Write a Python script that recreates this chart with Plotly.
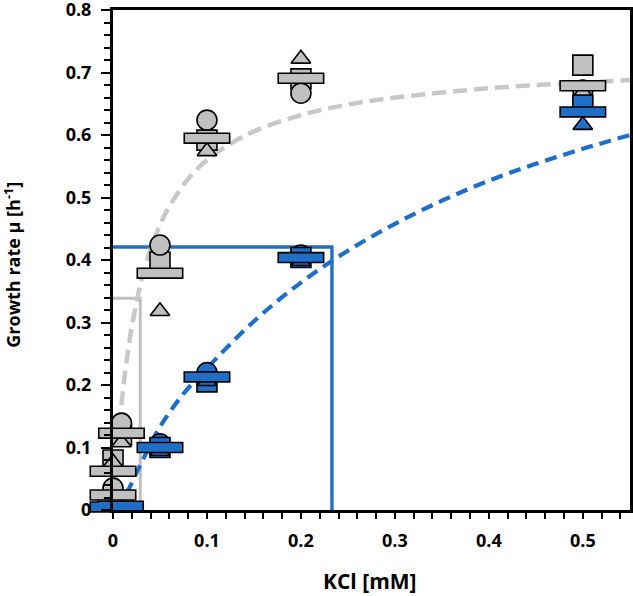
import plotly.graph_objects as go

# ---- data ----
# gray condition: replicate markers and means
gray_circle_x = [0.009, 0.0, 0.05, 0.1, 0.2, 0.5]
gray_circle_y = [0.139, 0.035, 0.424, 0.624, 0.667, 0.672]
gray_square_x = [0.009, 0.0, 0.05, 0.1, 0.2, 0.5]
gray_square_y = [0.120, 0.080, 0.397, 0.592, 0.690, 0.712]
gray_tri_x = [0.009, 0.0, 0.05, 0.1, 0.2, 0.5]
gray_tri_y = [0.108, 0.076, 0.318, 0.574, 0.722, 0.668]
gray_mean_x = [0.009, 0.0, 0.0, 0.05, 0.1, 0.2, 0.5]
gray_mean_y = [0.123, 0.062, 0.024, 0.379, 0.595, 0.691, 0.679]

# blue condition
blue_circle_x = [0.05, 0.1, 0.2]
blue_circle_y = [0.106, 0.220, 0.408]
blue_square_x = [0.0, 0.011, 0.05, 0.1, 0.2, 0.5]
blue_square_y = [-0.013, -0.013, 0.100, 0.205, 0.404, 0.648]
blue_tri_x = [0.05, 0.1, 0.2, 0.5]
blue_tri_y = [0.094, 0.206, 0.398, 0.616]
blue_mean_x = [0.0, 0.008, 0.05, 0.1, 0.2, 0.5]
blue_mean_y = [0.005, 0.006, 0.100, 0.213, 0.404, 0.637]

# fitted curves
gray_fit_x = [0.0, 0.005, 0.01, 0.015, 0.02, 0.03, 0.04, 0.05, 0.06, 0.08, 0.1,
              0.125, 0.15, 0.2, 0.25, 0.3, 0.35, 0.4, 0.45, 0.5, 0.55]
gray_fit_y = [0.0, 0.105, 0.184, 0.244, 0.293, 0.366, 0.417, 0.456, 0.486, 0.530, 0.560,
              0.586, 0.606, 0.632, 0.649, 0.660, 0.668, 0.675, 0.680, 0.684, 0.688]
blue_fit_x = [0.005, 0.015, 0.03, 0.05, 0.075, 0.1, 0.15, 0.2, 0.25, 0.3, 0.35,
              0.4, 0.45, 0.5, 0.55]
blue_fit_y = [0.0, 0.028, 0.075, 0.133, 0.186, 0.227, 0.302, 0.364, 0.415, 0.458, 0.495,
              0.527, 0.554, 0.578, 0.600]

# half-saturation guide lines
gray_guide_x = [0.0, 0.029, 0.029]
gray_guide_y = [0.339, 0.339, 0.0]
blue_guide_x = [0.0, 0.233, 0.233]
blue_guide_y = [0.421, 0.421, 0.0]

x_ticks = [0, 0.1, 0.2, 0.3, 0.4, 0.5]
x_ticklabels = ["0", "0.1", "0.2", "0.3", "0.4", "0.5"]
y_ticks = [0, 0.1, 0.2, 0.3, 0.4, 0.5, 0.6, 0.7, 0.8]
y_ticklabels = ["0", "0.1", "0.2", "0.3", "0.4", "0.5", "0.6", "0.7", "0.8"]
x_title = "KCl [mM]"
y_title = "Growth rate μ [h<sup>-1</sup>]"

GRAY = "#C0C0C0"
GRAY_LINE = "#C8C8C8"
BLUE = "#1F6FC6"

fig = go.Figure()


def line(x, y, color, width, dash=None, shape="linear"):
    fig.add_trace(go.Scatter(x=x, y=y, mode="lines", line=dict(color=color, width=width, dash=dash, shape=shape),
                             hoverinfo="skip", cliponaxis=False))


def pts(x, y, symbol, size, color):
    fig.add_trace(go.Scatter(x=x, y=y, mode="markers", cliponaxis=False,
                             marker=dict(symbol=symbol, size=size, color=color,
                                         line=dict(color="black", width=1.6))))


def means(x, y, color):
    fig.add_trace(go.Scatter(x=x, y=y, mode="markers", cliponaxis=False,
                             marker=dict(symbol="line-ew", size=33.6, color="black",
                                         line=dict(color="black", width=11.5))))
    fig.add_trace(go.Scatter(x=x, y=y, mode="markers", cliponaxis=False,
                             marker=dict(symbol="line-ew", size=31.3, color=color,
                                         line=dict(color=color, width=8.3))))


line(gray_guide_x, gray_guide_y, GRAY, 3)
line(blue_guide_x, blue_guide_y, BLUE, 3.4)
line(gray_fit_x, gray_fit_y, GRAY_LINE, 4.5, "14px,7px", "spline")
line(blue_fit_x, blue_fit_y, BLUE, 4.2, "12px,7px", "spline")

pts(gray_square_x, gray_square_y, "square", 20, GRAY)
pts(gray_circle_x, gray_circle_y, "circle", 20, GRAY)
pts(gray_tri_x, gray_tri_y, "triangle-up", 17, GRAY)
means(gray_mean_x, gray_mean_y, GRAY)

pts(blue_circle_x, blue_circle_y, "circle", 20, BLUE)
pts(blue_square_x, blue_square_y, "square", 20, BLUE)
pts(blue_tri_x, blue_tri_y, "triangle-up", 17, BLUE)
means(blue_mean_x, blue_mean_y, BLUE)

font_tick = dict(family="Open Sans", size=18, color="black", weight="bold")

fig.update_xaxes(range=[0, 0.5502], tickvals=x_ticks, ticktext=x_ticklabels, automargin=False,
                 showline=True, linewidth=3, linecolor="black", mirror=True,
                 ticks="outside", ticklen=6, tickwidth=1.5, tickcolor="black",
                 minor=dict(dtick=0.02, tick0=0, ticks="outside", ticklen=6, tickwidth=1.5, tickcolor="black"),
                 showgrid=False, zeroline=False, tickfont=font_tick, ticklabelstandoff=6,
                 ticklabeloverflow="allow")
fig.update_yaxes(range=[0, 0.8002], tickvals=y_ticks, ticktext=y_ticklabels, automargin=False,
                 showline=True, linewidth=3, linecolor="black", mirror=True,
                 ticks="outside", ticklen=9, tickwidth=1.5, tickcolor="black",
                 minor=dict(dtick=0.02, tick0=0, ticks="outside", ticklen=6, tickwidth=1.5, tickcolor="black"),
                 showgrid=False, zeroline=False, tickfont=font_tick, ticklabelstandoff=6,
                 ticklabeloverflow="allow")

fig.add_annotation(text=x_title, xref="paper", yref="paper", x=0.497, y=-0.142,
                   xanchor="center", yanchor="middle", showarrow=False,
                   font=dict(family="Open Sans", size=21, color="black", weight="bold"))
fig.add_annotation(text=y_title, xref="paper", yref="paper", x=-0.194, y=0.49,
                   xanchor="center", yanchor="middle", showarrow=False, textangle=-90,
                   font=dict(family="Open Sans", size=18, color="black", weight="bold"))

fig.update_layout(width=633, height=596, margin=dict(l=113, r=3, t=10, b=86),
                  plot_bgcolor="white", paper_bgcolor="white", showlegend=False)

fig.write_html("out.html", config={"displayModeBar": False},
               post_script="document.body.style.margin='0';document.body.style.overflow='hidden';")
